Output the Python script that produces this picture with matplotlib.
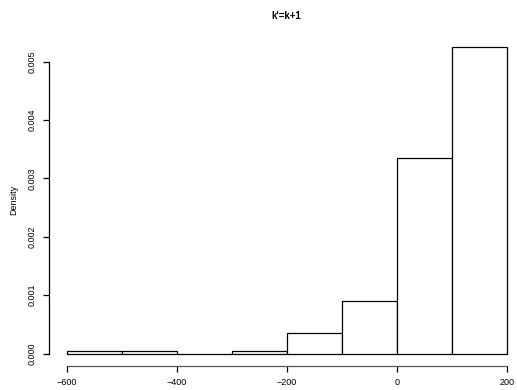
import matplotlib
matplotlib.use("Agg")
import matplotlib.pyplot as plt

# histogram bins (left edges) and densities
bin_edges = [-600, -500, -400, -300, -200, -100, 0, 100, 200]
densities = [0.00005, 0.00005, 0.0, 0.00005, 0.00035, 0.0009, 0.00335, 0.00525]
x_ticks = [-600, -400, -200, 0, 200]
y_ticks = [0.000, 0.001, 0.002, 0.003, 0.004, 0.005]

plt.rcParams["font.family"] = ["Liberation Sans", "DejaVu Sans"]

fig = plt.figure(figsize=(5.17, 3.90), dpi=100)
ax = fig.add_axes([0.0946, 0.0621, 0.920, 0.849])

widths = [b - a for a, b in zip(bin_edges[:-1], bin_edges[1:])]
ax.bar(bin_edges[:-1], densities, width=widths, align="edge",
       facecolor="white", edgecolor="black", linewidth=0.9)

# R-style limits (4% padding)
xr = bin_edges[-1] - bin_edges[0]
ax.set_xlim(bin_edges[0] - 0.04 * xr, bin_edges[-1] + 0.04 * xr)
ymax = max(densities)
ax.set_ylim(-0.04 * ymax, ymax * 1.04)

ax.set_xticks(x_ticks)
ax.set_xticklabels([f"{t}".replace("-", "\u2212") for t in x_ticks])
ax.set_yticks(y_ticks)
ax.set_yticklabels([f"{t:.3f}" for t in y_ticks], rotation=90, va="center")

for s in ["top", "right"]:
    ax.spines[s].set_visible(False)
ax.spines["left"].set_bounds(y_ticks[0], y_ticks[-1])
ax.spines["bottom"].set_bounds(x_ticks[0], x_ticks[-1])
ax.spines["left"].set_linewidth(0.9)
ax.spines["bottom"].set_linewidth(0.9)
ax.spines["bottom"].set_color("#555555")

ax.tick_params(axis="both", length=4.5, width=0.9, labelsize=6.5, pad=4)

ax.set_ylabel("Density", fontsize=6.5, labelpad=7)
ax.set_title("k'=k+1", fontsize=7, fontweight="bold", pad=11)

fig.savefig("out.png", dpi=100)
